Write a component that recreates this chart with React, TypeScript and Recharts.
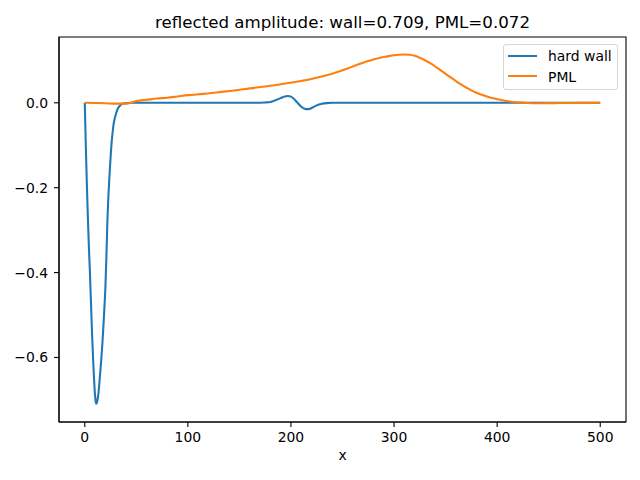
import React from "react";
import {
  LineChart,
  Line,
  XAxis,
  YAxis,
  ReferenceArea,
  Legend,
} from "recharts";

// ── Data ─────────────────────────────────────────────────────────────────

const wallX = [
  0, 1, 2, 3, 4, 5, 6, 7, 8, 9, 10, 10.5, 11, 11.5, 12, 13, 14, 15, 16, 17,
  18, 19, 20, 21, 22, 23, 24, 25, 26, 27, 28, 30, 32, 34, 36, 40, 45, 100, 160,
  170, 175, 180, 185, 190, 194, 197, 200, 203, 206, 209, 212, 215, 218, 221,
  225, 230, 235, 240, 300, 400, 500,
];
const wallY = [
  0, -0.1, -0.19, -0.27, -0.34, -0.4, -0.47, -0.54, -0.6, -0.65, -0.69,
  -0.702, -0.709, -0.708, -0.704, -0.69, -0.665, -0.635, -0.605, -0.57, -0.53,
  -0.485, -0.435, -0.36, -0.275, -0.215, -0.17, -0.13, -0.095, -0.07, -0.05,
  -0.028, -0.014, -0.007, -0.003, -0.001, 0, 0, 0, 0.0003, 0.0008, 0.002,
  0.006, 0.011, 0.015, 0.016, 0.0145, 0.009, 0.001, -0.007, -0.0125, -0.015,
  -0.0145, -0.011, -0.006, -0.0025, -0.0008, 0, 0, 0, 0,
];

const pmlX = [
  0, 10, 20, 30, 40, 45, 50, 60, 70, 80, 90, 100, 115, 130, 145, 160, 180, 196,
  210, 220, 230, 235, 240, 245, 250, 255, 260, 265, 270, 275, 280, 285, 290,
  295, 300, 305, 310, 315, 320, 325, 330, 335, 340, 344, 348, 352, 356, 360,
  364, 368, 372, 376, 380, 385, 390, 396, 400, 405, 412, 420, 430, 440, 460,
  480, 500,
];
const pmlY = [
  0, -0.0005, -0.001, -0.002, -0.002, 0, 0.004, 0.007, 0.01, 0.012, 0.015,
  0.018, 0.021, 0.025, 0.029, 0.034, 0.04, 0.046, 0.0515, 0.056, 0.062, 0.065,
  0.0685, 0.0723, 0.0765, 0.081, 0.0855, 0.09, 0.0943, 0.0983, 0.102, 0.1052,
  0.1078, 0.11, 0.1118, 0.1131, 0.1138, 0.1133, 0.1106, 0.106, 0.1003, 0.0933,
  0.0855, 0.0787, 0.0718, 0.0648, 0.0579, 0.0512, 0.0448, 0.0388, 0.0333,
  0.0282, 0.0237, 0.0188, 0.0147, 0.0106, 0.0085, 0.0062, 0.0032, 0.001,
  -0.0005, -0.001, -0.0006, -0.0002, 0,
];

const xTicks = [0, 100, 200, 300, 400, 500];
const yTicks = [-0.6, -0.4, -0.2, 0];

const seriesNames = ["hard wall", "PML"];
const seriesColors = ["#1f77b4", "#ff7f0e"];

const titleText = "reflected amplitude: wall=0.709, PML=0.072";

// ── Component ────────────────────────────────────────────────────────────

const FONT = "'DejaVu Sans', sans-serif";
const TICK = { fill: "#000", fontSize: 13.9, fontFamily: FONT };

const wallData = wallX.map((x, i) => ({ x, y: wallY[i] }));
const pmlData = pmlX.map((x, i) => ({ x, y: pmlY[i] }));

const fmtY = (v: number) => v.toFixed(1).replace("-", "\u2212");

function LegendBox() {
  return (
    <div
      style={{
        position: "relative",
        width: 115,
        height: 46,
        boxSizing: "border-box",
        border: "1px solid #d6d6d6",
        borderRadius: 3,
        background: "rgba(255,255,255,0.8)",
        fontFamily: FONT,
        fontSize: 13.9,
      }}
    >
      {seriesNames.map((name, i) => (
        <React.Fragment key={name}>
          <div
            style={{
              position: "absolute",
              left: 4,
              top: 9.5 + i * 20.7,
              width: 29,
              height: 2,
              background: seriesColors[i],
            }}
          />
          <div
            style={{
              position: "absolute",
              left: 44,
              top: 1 + i * 20.7,
              lineHeight: "20px",
              whiteSpace: "nowrap",
              color: "#000",
            }}
          >
            {name}
          </div>
        </React.Fragment>
      ))}
    </div>
  );
}

export default function App() {
  return (
    <div
      style={{
        position: "absolute",
        left: 0,
        top: 0,
        width: 640,
        height: 480,
        background: "#fff",
      }}
    >
      {/* Title */}
      <div
        style={{
          position: "absolute",
          left: 59,
          top: 13,
          width: 567,
          textAlign: "center",
          fontFamily: FONT,
          fontSize: 16.67,
          lineHeight: "20px",
          color: "#000",
          whiteSpace: "nowrap",
        }}
      >
        {titleText}
      </div>

      <LineChart
        width={640}
        height={480}
        margin={{ top: 37, right: 14, bottom: 0, left: 0 }}
      >
        <XAxis
          type="number"
          dataKey="x"
          domain={[-25, 525]}
          ticks={xTicks}
          allowDataOverflow
          height={58}
          tick={TICK}
          tickSize={5}
          tickMargin={5}
          axisLine={{ stroke: "#000", strokeWidth: 1.1 }}
          tickLine={{ stroke: "#000", strokeWidth: 1.1 }}
          label={{
            value: "x",
            position: "insideBottom",
            offset: 20,
            fill: "#000",
            fontSize: 13.9,
            fontFamily: FONT,
          }}
        />
        <YAxis
          type="number"
          domain={[-0.752, 0.155]}
          ticks={yTicks}
          allowDataOverflow
          width={59}
          tick={TICK}
          tickFormatter={fmtY}
          tickSize={5}
          tickMargin={6}
          axisLine={{ stroke: "#000", strokeWidth: 1.1 }}
          tickLine={{ stroke: "#000", strokeWidth: 1.1 }}
        />

        {/* Top and right spines */}
        <ReferenceArea
          x1={-25}
          x2={525}
          y1={-0.752}
          y2={0.155}
          fill="none"
          stroke="#000"
          strokeWidth={1.1}
          fillOpacity={0}
        />

        <Line
          data={wallData}
          dataKey="y"
          name={seriesNames[0]}
          type="monotone"
          stroke={seriesColors[0]}
          strokeWidth={2.08}
          dot={false}
          activeDot={false}
          isAnimationActive={false}
        />
        <Line
          data={pmlData}
          dataKey="y"
          name={seriesNames[1]}
          type="monotone"
          stroke={seriesColors[1]}
          strokeWidth={2.08}
          dot={false}
          activeDot={false}
          isAnimationActive={false}
        />

        <Legend
          layout="horizontal"
          verticalAlign="middle"
          align="center"
          wrapperStyle={{ top: 44, left: 503, width: 115 }}
          content={() => <LegendBox />}
        />
      </LineChart>
    </div>
  );
}
